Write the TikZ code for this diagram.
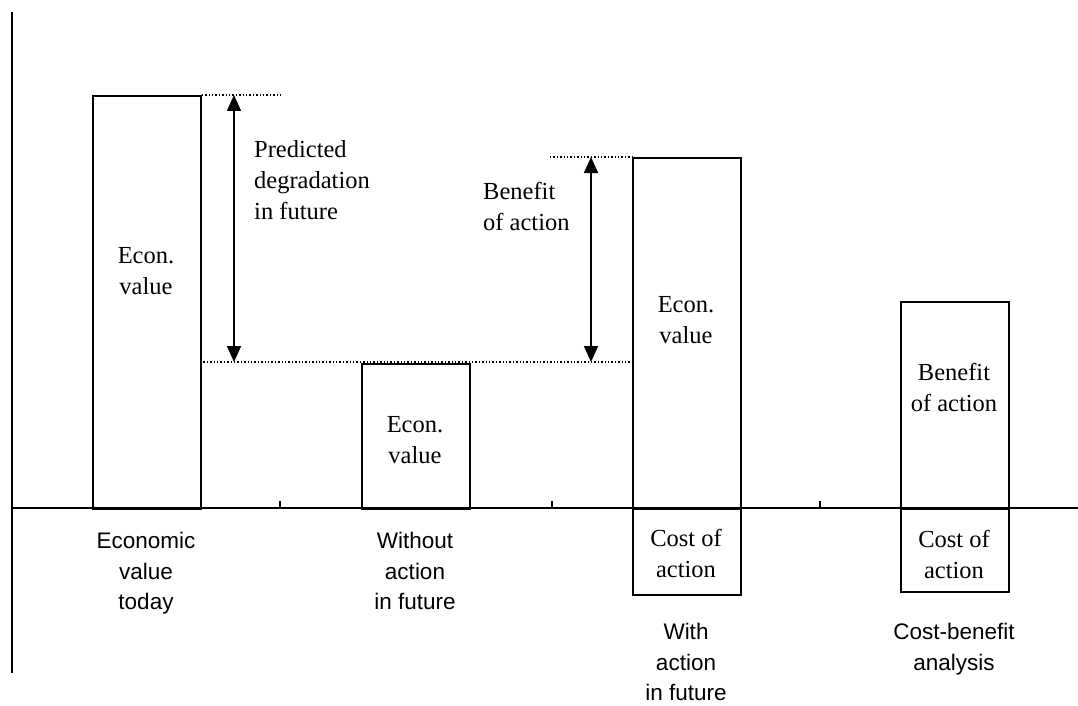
\documentclass[tikz,border=0pt]{standalone}
\usepackage{fontspec}
\setmainfont{Liberation Serif}
\setsansfont{Liberation Sans}
\usetikzlibrary{arrows.meta}
\begin{document}
\begin{tikzpicture}[x=1pt,y=-1pt,
  box/.style={draw,line width=1.8pt,inner sep=0pt,anchor=north west},
  serif/.style={font=\fontsize{24.5}{31}\selectfont,align=center,inner sep=0pt},
  serifl/.style={font=\fontsize{24.5}{31}\selectfont,align=left,inner sep=0pt,anchor=west},
  sanslab/.style={font=\sffamily\fontsize{22.5}{30.5}\selectfont,align=center,inner sep=0pt,anchor=north},
  axis/.style={line width=1.1pt},
  guide/.style={dotted,line width=1.4pt},
  dbl/.style={line width=1.6pt,{Triangle[length=16pt,width=14pt]}-{Triangle[length=16pt,width=14pt]}}]
\useasboundingbox (0,0) rectangle (1078,706);
% axes
\coordinate (ytop) at (12,12);
\coordinate (ybot) at (12,673);
\coordinate (xl) at (12,508);
\coordinate (xr) at (1078,508);
\draw[axis] (ytop) -- (ybot);
\draw[axis] (xl) -- (xr);
\foreach \t in {280,552,820}{
  \coordinate (tk\t) at (\t,508);
  \draw[axis] (tk\t) -- ++(0,-7);
}
% boxes
\node[box,minimum width=108,minimum height=413] (b1) at (92,95) {};
\node[box,minimum width=108,minimum height=145] (b2) at (361,363) {};
\node[box,minimum width=108,minimum height=351] (b3) at (632,157) {};
\node[box,minimum width=108,minimum height=86] (c3) at (632,508) {};
\node[box,minimum width=108,minimum height=207] (b4) at (900,301) {};
\node[box,minimum width=108,minimum height=83] (c4) at (900,508) {};
% dotted guides
\coordinate (g1) at (283,95);
\coordinate (g2a) at (200,362);
\coordinate (g2b) at (633,362);
\coordinate (g3) at (550,157);
\draw[guide] (b1.north east) -- (g1);
\draw[guide] (g2a) -- (g2b);
\draw[guide] (g3) -- (b3.north west);
% arrows
\coordinate (a1t) at (234,95);
\coordinate (a1b) at (234,362);
\coordinate (a2t) at (591,157);
\coordinate (a2b) at (591,362);
\draw[dbl] (a1t) -- (a1b);
\draw[dbl] (a2t) -- (a2b);
% labels
\node[serif] (t1) at (146,271) {Econ.\\value};
\node[serifl] (t2) at (254,180) {Predicted\\degradation\\in future};
\node[serifl] (t3) at (483,206) {Benefit\\of action};
\node[serif] (t4) at (415,440) {Econ.\\value};
\node[serif] (t5) at (686,320) {Econ.\\value};
\node[serif] (t6) at (686,553) {Cost of\\action};
\node[serif] (t7) at (954,387) {Benefit\\of action};
\node[serif] (t8) at (954,554) {Cost of\\action};
\node[sanslab] (s1) at (146,532) {Economic\\value\\today};
\node[sanslab] (s2) at (415,532) {Without\\action\\in future};
\node[sanslab] (s3) at (686,623) {With\\action\\in future};
\node[sanslab] (s4) at (954,623) {Cost-benefit\\analysis};
\end{tikzpicture}
\end{document}
